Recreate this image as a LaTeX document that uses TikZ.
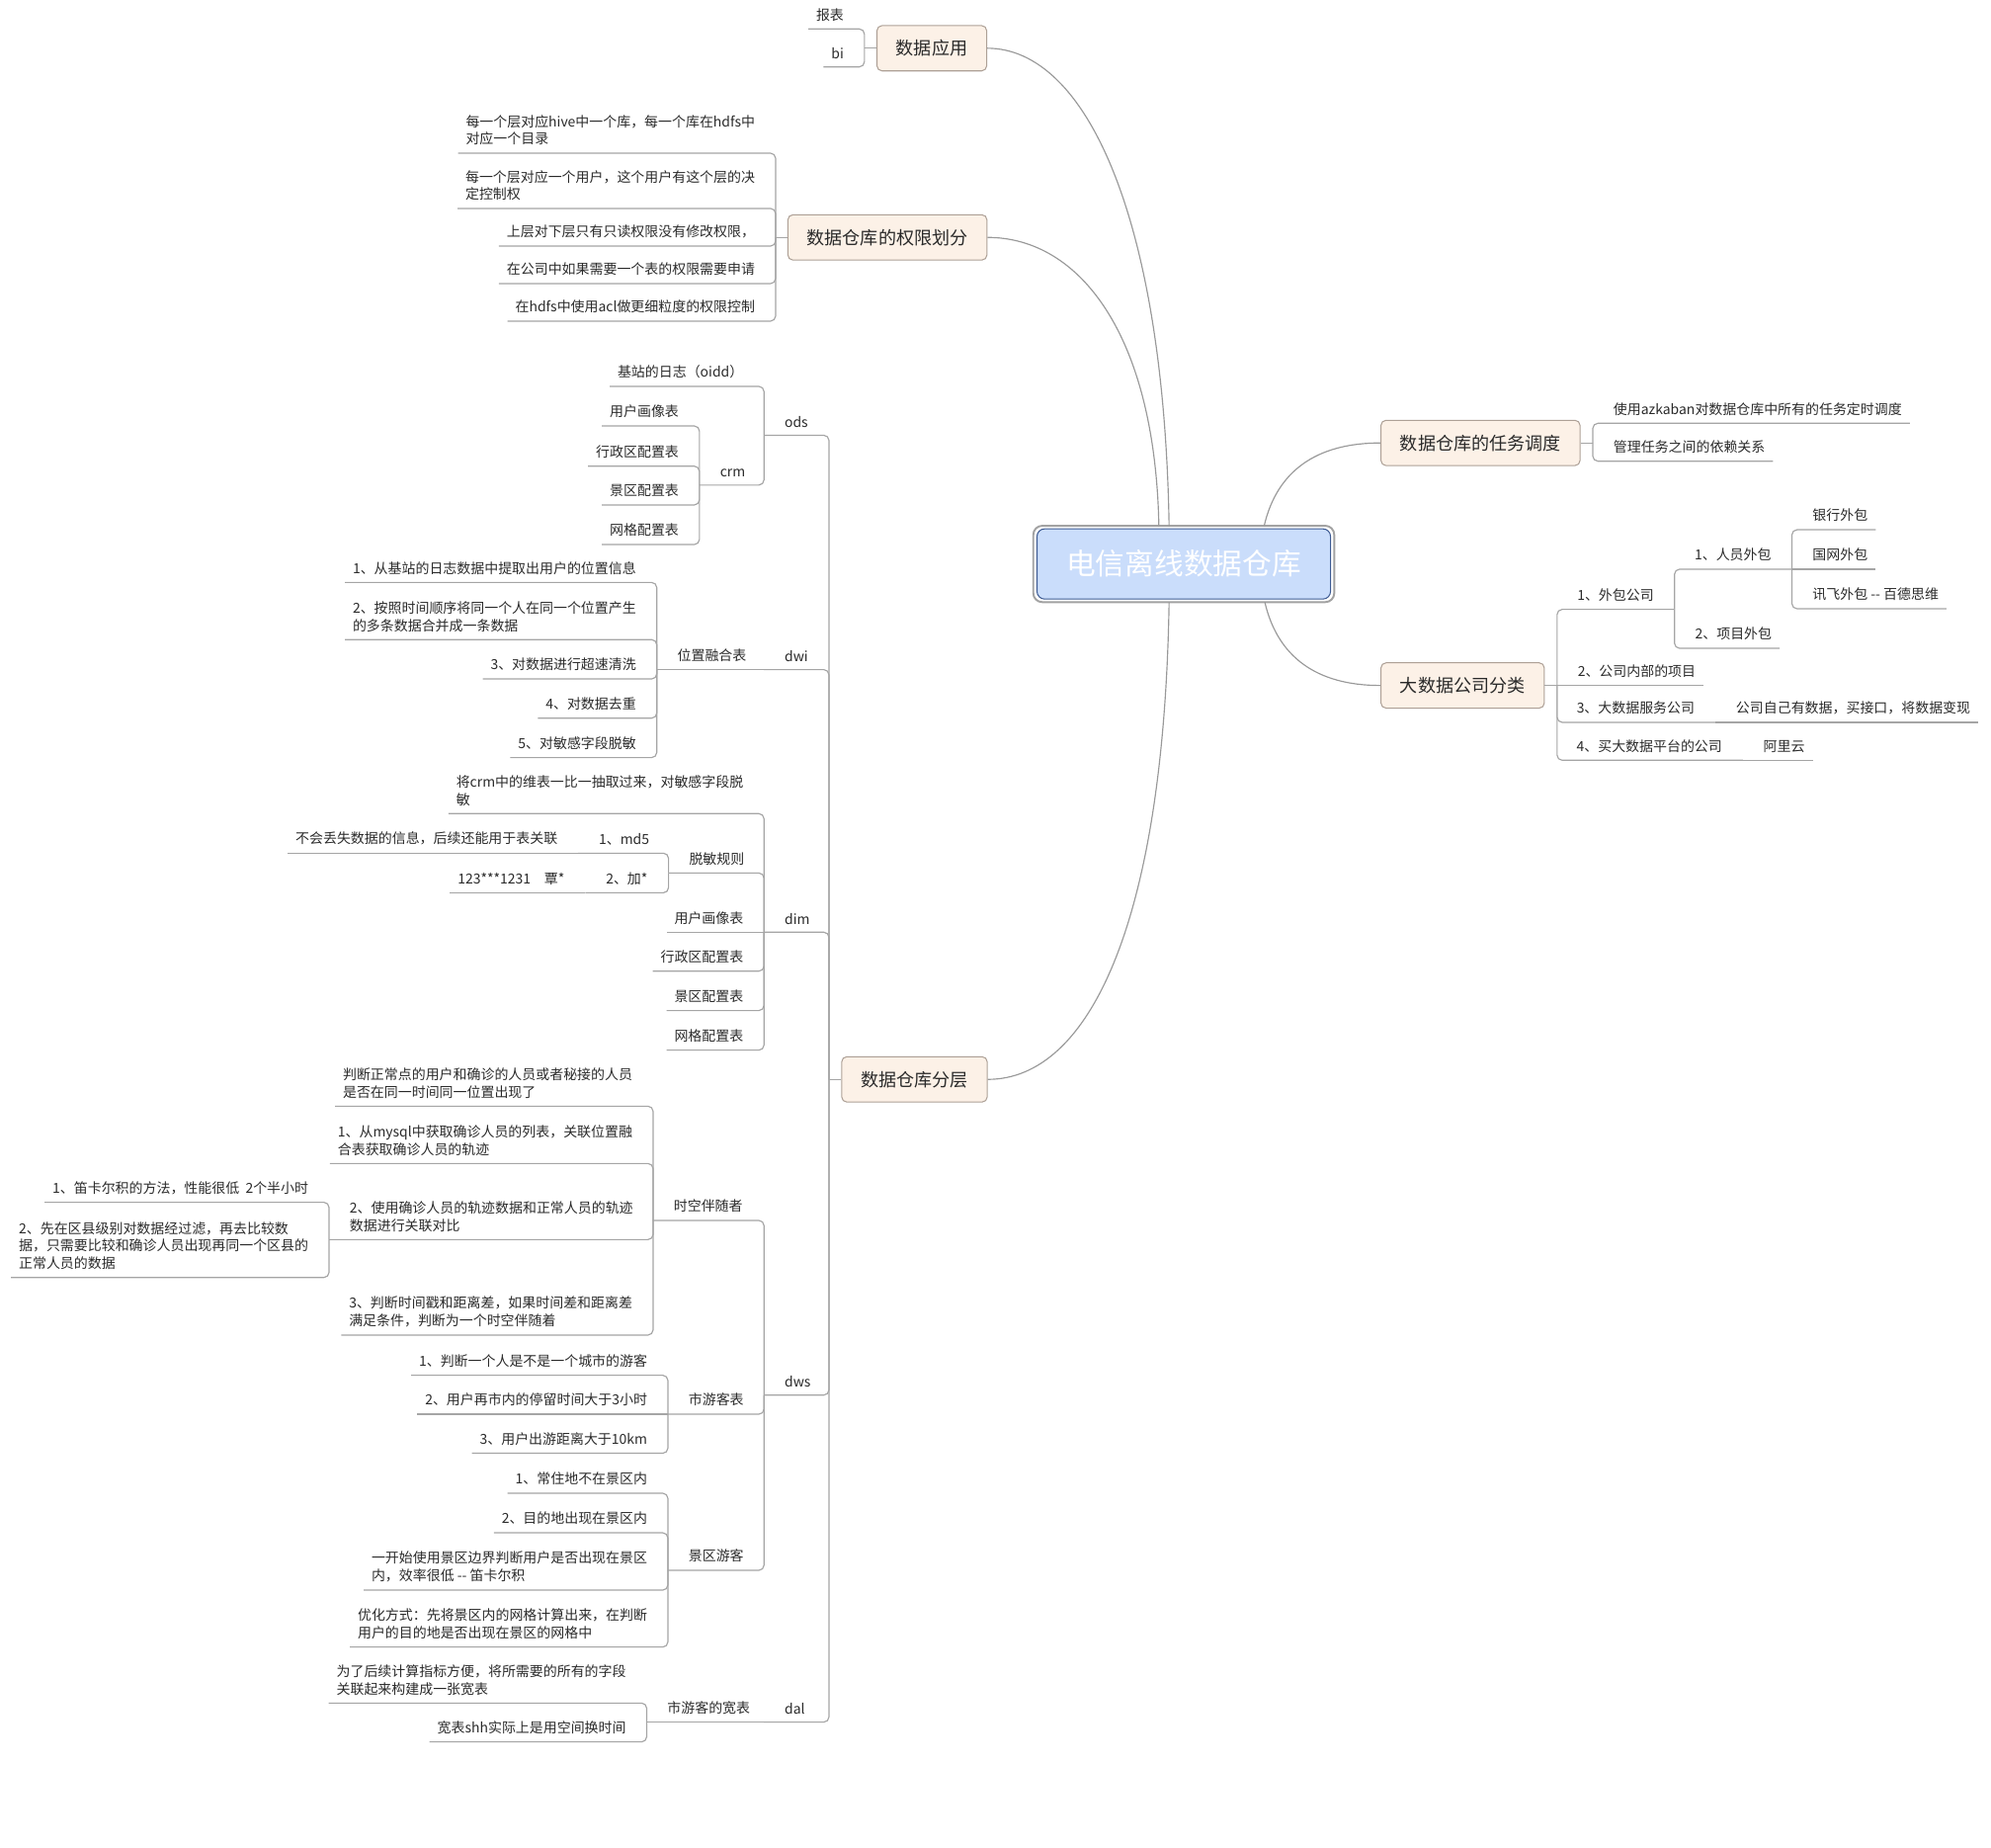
\documentclass[tikz,border=0pt]{standalone}
\usepackage{fontspec}
\setmainfont{Noto Sans CJK SC}
\definecolor{linec}{HTML}{A5A5A5}
\definecolor{arcc}{HTML}{999999}
\definecolor{txtc}{HTML}{2A2A2A}
\definecolor{boxfill}{HTML}{FCF1E7}
\definecolor{boxline}{HTML}{ADA096}
\definecolor{corefill}{HTML}{CADDFB}
\definecolor{coreline}{HTML}{3E5B93}
\definecolor{frameline}{HTML}{A2A2A2}
\begin{document}
\begin{tikzpicture}[x=1pt,y=-1pt,
  treeln/.style={draw=linec,line width=0.9pt,rounded corners=4pt},
  arcln/.style={draw=arcc,line width=0.9pt},
  frameln/.style={draw=frameline,line width=1.5pt,rounded corners=7pt},
  topic/.style={text=txtc,font={\fontsize{10.8pt}{13.7pt}\selectfont},align=left,inner ysep=6pt},
  leafl/.style={topic,inner xsep=6pt,anchor=south east},
  leafr/.style={topic,inner xsep=6pt,anchor=south west},
  subl/.style={topic,inner xsep=16pt,anchor=south west},
  subr/.style={topic,inner xsep=16pt,anchor=south east},
  mainbox/.style={draw=boxline,fill=boxfill,rounded corners=4pt,line width=0.8pt,text=txtc,
    font={\fontsize{14pt}{17pt}\selectfont},inner xsep=15pt,minimum height=35.5pt},
  corebox/.style={draw=coreline,fill=corefill,rounded corners=6pt,line width=0.8pt,text=white,
    font={\fontsize{23pt}{28pt}\selectfont},minimum width=230pt,minimum height=55pt}]
\useasboundingbox (0,0) rectangle (1560,1447);

\node[corebox] (core) at (927.5,441.8) {电信离线数据仓库};
\draw[frameln] ([shift={(-2.5pt,-2pt)}]core.south west) rectangle ([shift={(2.5pt,2pt)}]core.north east);

\node[mainbox] (app) at (730.1,37.8) {数据应用};
\coordinate (appsp) at (677.3,37.8);
\node[leafl] (rep) at (667.3,22.7) {报表};
\node[leafl] (bi) at (667.3,52.4) {bi};
\draw[treeln] (app.west) -- (appsp);
\foreach \n in {rep,bi} \draw[treeln] (appsp) |- (\n.south west);

\node[mainbox] (perm) at (695.3,186) {数据仓库的权限划分};
\coordinate (permsp) at (607.7,186);
\node[leafl] (p1) at (597.7,120) {每一个层对应hive中一个库，每一个库在hdfs中\\对应一个目录};
\node[leafl] (p2) at (597.7,163.3) {每一个层对应一个用户，这个用户有这个层的决\\定控制权};
\node[leafl] (p3) at (597.7,192.8) {上层对下层只有只读权限没有修改权限，};
\node[leafl] (p4) at (597.7,222.2) {在公司中如果需要一个表的权限需要申请};
\node[leafl] (p5) at (597.7,251.6) {在hdfs中使用acl做更细粒度的权限控制};
\draw[treeln] (perm.west) -- (permsp);
\foreach \i in {1,...,5} \draw[treeln] (permsp) |- (p\i.south west);

\node[mainbox] (layer) at (716.5,845.6) {数据仓库分层};
\coordinate (laysp) at (649.5,845.6);
\draw[treeln] (layer.west) -- (laysp);

\node[subl] (ods) at (598.6,341) {ods};
\node[leafl] (oidd) at (588.6,302.7) {基站的日志（oidd）};
\node[subl] (crm) at (548,380) {crm};
\node[leafl] (crm1) at (538,333.7) {用户画像表};
\node[leafl] (crm2) at (538,365.2) {行政区配置表};
\node[leafl] (crm3) at (538,395.6) {景区配置表};
\node[leafl] (crm4) at (538,426.6) {网格配置表};

\node[subl] (dwi) at (598.6,524.6) {dwi};
\node[subl] (fuse) at (514.6,524.6) {位置融合表};
\node[leafl] (w1) at (504.6,456.3) {1、从基站的日志数据中提取出用户的位置信息};
\node[leafl] (w2) at (504.6,501.1) {2、按照时间顺序将同一个人在同一个位置产生\\的多条数据合并成一条数据};
\node[leafl] (w3) at (504.6,531.9) {3、对数据进行超速清洗};
\node[leafl] (w4) at (504.6,562.6) {4、对数据去重};
\node[leafl] (w5) at (504.6,593.5) {5、对敏感字段脱敏};

\node[subl] (dim) at (598.6,730.3) {dim};
\node[leafl] (dim0) at (588.6,637.4) {将crm中的维表一比一抽取过来，对敏感字段脱\\敏};
\node[subl] (mask) at (523.8,683.9) {脱敏规则};
\node[subl] (md5) at (453,668.4) {1、md5};
\node[leafl] (md5x) at (443,668.4) {不会丢失数据的信息，后续还能用于表关联};
\node[subl] (star) at (458.6,699.4) {2、加*};
\node[leafl] (starx) at (448.6,699.4) {123***1231\quad 覃*};
\node[leafl] (dim1) at (588.6,730.3) {用户画像表};
\node[leafl] (dim2) at (588.6,760.8) {行政区配置表};
\node[leafl] (dim3) at (588.6,791.7) {景区配置表};
\node[leafl] (dim4) at (588.6,822.7) {网格配置表};

\node[subl] (dws) at (598.6,1092.9) {dws};
\node[subl] (comp) at (511.7,956.1) {时空伴随者};
\node[leafl] (comp0) at (501.7,866.6) {判断正常点的用户和确诊的人员或者秘接的人员\\是否在同一时间同一位置出现了};
\node[leafl] (comp1) at (501.7,911.5) {1、从mysql中获取确诊人员的列表，关联位置融\\合表获取确诊人员的轨迹};
\node[subl] (comp2) at (257.8,971.1) {2、使用确诊人员的轨迹数据和正常人员的轨迹\\数据进行关联对比};
\node[leafl] (comp21) at (247.8,941.9) {1、笛卡尔积的方法，性能很低~~2个半小时};
\node[leafl] (comp22) at (247.8,1000.8) {2、先在区县级别对数据经过滤，再去比较数\\据，只需要比较和确诊人员出现再同一个区县的\\正常人员的数据};
\node[leafl] (comp3) at (501.7,1045.9) {3、判断时间戳和距离差，如果时间差和距离差\\满足条件，判断为一个时空伴随着};
\node[subl] (city) at (523.3,1107.9) {市游客表};
\node[leafl] (city1) at (513.3,1077.4) {1、判断一个人是不是一个城市的游客};
\node[leafl] (city2) at (513.3,1107.9) {2、用户再市内的停留时间大于3小时};
\node[leafl] (city3) at (513.3,1138.5) {3、用户出游距离大于10km};
\node[subl] (scen) at (523.3,1230.2) {景区游客};
\node[leafl] (scen1) at (513.3,1169.8) {1、常住地不在景区内};
\node[leafl] (scen2) at (513.3,1200.8) {2、目的地出现在景区内};
\node[leafl] (scen3) at (513.3,1245.7) {一开始使用景区边界判断用户是否出现在景区\\内，效率很低 -{}- 笛卡尔积};
\node[leafl] (scen4) at (513.3,1290.3) {优化方式：先将景区内的网格计算出来，在判断\\用户的目的地是否出现在景区的网格中};

\node[subl] (dal) at (598.6,1349.1) {dal};
\node[subl] (wide) at (506.7,1349.1) {市游客的宽表};
\node[leafl] (wide1) at (496.7,1334.2) {为了后续计算指标方便，将所需要的所有的字段\\关联起来构建成一张宽表};
\node[leafl] (wide2) at (496.7,1364.6) {宽表shh实际上是用空间换时间};

\foreach \n in {ods,dwi,dim,dws,dal} \draw[treeln] (laysp) |- (\n.south west);
\foreach \n in {oidd,crm} \draw[treeln] (ods.south west) |- (\n.south west);
\foreach \i in {1,...,4} \draw[treeln] (crm.south west) |- (crm\i.south west);
\draw[treeln] (dwi.south west) -- (fuse.south west);
\foreach \i in {1,...,5} \draw[treeln] (fuse.south west) |- (w\i.south west);
\foreach \n in {dim0,mask,dim2,dim3,dim4} \draw[treeln] (dim.south west) |- (\n.south west);
\draw[treeln] (dim.south west) -- (dim1.south west);
\foreach \n in {md5,star} \draw[treeln] (mask.south west) |- (\n.south west);
\draw[treeln] (md5.south west) -- (md5x.south west);
\draw[treeln] (star.south west) -- (starx.south west);
\foreach \n in {comp,city,scen} \draw[treeln] (dws.south west) |- (\n.south west);
\foreach \n in {comp0,comp1,comp2,comp3} \draw[treeln] (comp.south west) |- (\n.south west);
\foreach \n in {comp21,comp22} \draw[treeln] (comp2.south west) |- (\n.south west);
\foreach \n in {city1,city3} \draw[treeln] (city.south west) |- (\n.south west);
\draw[treeln] (city.south west) -- (city2.south west);
\foreach \i in {1,...,4} \draw[treeln] (scen.south west) |- (scen\i.south west);
\draw[treeln] (dal.south west) -- (wide.south west);
\foreach \n in {wide1,wide2} \draw[treeln] (wide.south west) |- (\n.south west);

\node[mainbox] (task) at (1160,347) {数据仓库的任务调度};
\coordinate (tasksp) at (1248,347);
\node[leafr] (k1) at (1258,331.6) {使用azkaban对数据仓库中所有的任务定时调度};
\node[leafr] (k2) at (1258,361.3) {管理任务之间的依赖关系};
\draw[treeln] (task.east) -- (tasksp);
\foreach \n in {k1,k2} \draw[treeln] (tasksp) |- (\n.south east);

\node[mainbox] (big) at (1146,537) {大数据公司分类};
\coordinate (bigsp) at (1220,537);
\node[subr] (outs) at (1312,477.4) {1、外包公司};
\node[subr] (staff) at (1404,445.9) {1、人员外包};
\node[leafr] (bank) at (1414,415) {银行外包};
\node[leafr] (sgcc) at (1414,445.9) {国网外包};
\node[leafr] (xunfei) at (1414,476.9) {讯飞外包 -{}- 百德思维};
\node[leafr] (proj) at (1322,507.9) {2、项目外包};
\node[leafr] (inhouse) at (1230,537) {2、公司内部的项目};
\node[subr] (serv) at (1344,565.9) {3、大数据服务公司};
\node[leafr] (servx) at (1354,565.9) {公司自己有数据，买接口，将数据变现};
\node[subr] (buy) at (1365.5,595.6) {4、买大数据平台的公司};
\node[leafr] (ali) at (1375.5,595.6) {阿里云};
\draw[treeln] (big.east) -- (bigsp);
\foreach \n in {outs,serv,buy} \draw[treeln] (bigsp) |- (\n.south east);
\draw[treeln] (bigsp) -- (inhouse.south east);
\foreach \n in {staff,proj} \draw[treeln] (outs.south east) |- (\n.south east);
\foreach \n in {bank,xunfei} \draw[treeln] (staff.south east) |- (\n.south east);
\draw[treeln] (staff.south east) -- (sgcc.south east);
\draw[treeln] (serv.south east) -- (servx.south east);
\draw[treeln] (buy.south east) -- (ali.south east);

\draw[arcln] (app.east) .. controls +(78,0) and +(-4,-240) .. ([shift={(-11.5pt,2pt)}]core.north);
\draw[arcln] (perm.east) .. controls +(72,0) and +(-3,-150) .. ([shift={(-19.5pt,2pt)}]core.north);
\draw[arcln] (layer.east) .. controls +(80,0) and +(-4,250) .. ([shift={(-11.5pt,-2pt)}]core.south);
\draw[arcln] (task.west) .. controls +(-50,0) and +(10,-43) .. ([shift={(63pt,2pt)}]core.north);
\draw[arcln] (big.west) .. controls +(-50,0) and +(10,43) .. ([shift={(63.5pt,-2pt)}]core.south);
\end{tikzpicture}
\end{document}
